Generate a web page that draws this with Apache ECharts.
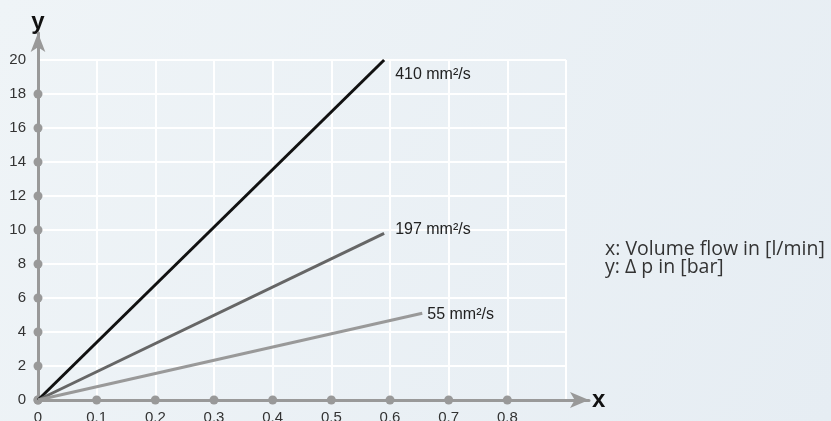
<!DOCTYPE html>
<html>
<head>
<meta charset="utf-8">
<script src="https://cdn.jsdelivr.net/npm/echarts@6/dist/echarts.min.js"></script>
<style>
  html, body { margin: 0; padding: 0; }
  #chart { width: 831px; height: 421px; }
</style>
</head>
<body>
<div id="chart"></div>
<script>
// Pressure drop vs volume flow for three viscosities
const seriesNames = ['410 mm²/s', '197 mm²/s', '55 mm²/s']
const flow410 = [0, 0.59]
const dp410 = [0, 20]
const flow197 = [0, 0.59]
const dp197 = [0, 9.8]
const flow55 = [0, 0.655]
const dp55 = [0, 5.1]
const xTickDots = [0, 0.1, 0.2, 0.3, 0.4, 0.5, 0.6, 0.7, 0.8]
const yTickDots = [0, 2, 4, 6, 8, 10, 12, 14, 16, 18]
const noteLines = ['x: Volume flow in [l/min]', 'y: Δ p in [bar]']

const pairs = ( xs, ys ) => xs.map( ( x, i ) => [x, ys[i]] )

const chart = echarts.init( document.getElementById( 'chart' ) )

const lineColors = ['#111111', '#666666', '#999999']
const labelOffsets = [[3, 15], [3, -4], [-3, 1]]
const lineData = [pairs( flow410, dp410 ), pairs( flow197, dp197 ), pairs( flow55, dp55 )]

const axisGrey = '#999999'
const sans = '"Liberation Sans", Arial, sans-serif'
const labelFont = { fontFamily : sans, fontSize : 15, color : '#333' }
const nameFont = { fontFamily : sans, fontSize : 24, fontWeight : 'bold', color : '#111' }

chart.setOption( {
  backgroundColor : new echarts.graphic.LinearGradient( 0, 0, 1, 1, [
    { offset : 0, color : '#eff4f7' },
    { offset : 1, color : '#e6edf3' }
  ] ),
  animation : false,
  grid : [
    { left : 38, right : 265, top : 60, bottom : 21, outerBoundsMode : 'none' },
    { left : 38, right : 242, top : 33, bottom : 21, outerBoundsMode : 'none' }
  ],
  xAxis : [
    {
      type : 'value',
      gridIndex : 0,
      min : 0,
      max : 0.9,
      interval : 0.1,
      axisLine : { show : false },
      axisTick : { show : false },
      axisLabel : {
        ...labelFont,
        margin : 10,
        formatter : v => ( v > 0.85 ? '' : ( v === 0 ? '0' : v.toFixed( 1 ) ) )
      },
      splitLine : { show : true, lineStyle : { color : '#ffffff', width : 2 } }
    },
    {
      type : 'value',
      gridIndex : 1,
      min : 0,
      max : 1,
      name : 'x',
      nameLocation : 'end',
      nameGap : 3,
      nameTextStyle : nameFont,
      axisLine : {
        show : true,
        lineStyle : { color : axisGrey, width : 3 },
        symbol : ['none', 'arrow'],
        symbolSize : [12, 19]
      },
      axisTick : { show : false },
      axisLabel : { show : false },
      splitLine : { show : false }
    }
  ],
  yAxis : [
    {
      type : 'value',
      gridIndex : 0,
      min : 0,
      max : 20,
      interval : 2,
      axisLine : { show : false },
      axisTick : { show : false },
      axisLabel : { ...labelFont, margin : 12 },
      splitLine : { show : true, lineStyle : { color : '#ffffff', width : 2 } }
    },
    {
      type : 'value',
      gridIndex : 1,
      min : 0,
      max : 1,
      name : 'y',
      nameLocation : 'end',
      nameGap : -1,
      nameTextStyle : nameFont,
      axisLine : {
        show : true,
        lineStyle : { color : axisGrey, width : 3 },
        symbol : ['none', 'arrow'],
        symbolSize : [11, 19]
      },
      axisTick : { show : false },
      axisLabel : { show : false },
      splitLine : { show : false }
    }
  ],
  series : [
    {
      type : 'scatter',
      xAxisIndex : 0,
      yAxisIndex : 0,
      symbolSize : 9,
      itemStyle : { color : axisGrey, opacity : 1 },
      data : xTickDots.map( v => [v, 0] ).concat( yTickDots.map( v => [0, v] ) ),
      z : 1
    },
    ...seriesNames.map( ( name, i ) => ( {
      name,
      type : 'line',
      xAxisIndex : 0,
      yAxisIndex : 0,
      data : lineData[i],
      showSymbol : false,
      lineStyle : { color : lineColors[i], width : 3 },
      z : 3,
      endLabel : {
        show : true,
        formatter : name,
        offset : labelOffsets[i],
        fontFamily : sans,
        fontSize : 16,
        color : '#222'
      }
    } ) )
  ],
  graphic : [
    {
      type : 'text',
      left : 605,
      top : 239,
      style : {
        text : noteLines.join( '\n' ),
        font : '19.5px "Open Sans", sans-serif',
        lineHeight : 18,
        fill : '#333'
      }
    }
  ]
} )
</script>
</body>
</html>
